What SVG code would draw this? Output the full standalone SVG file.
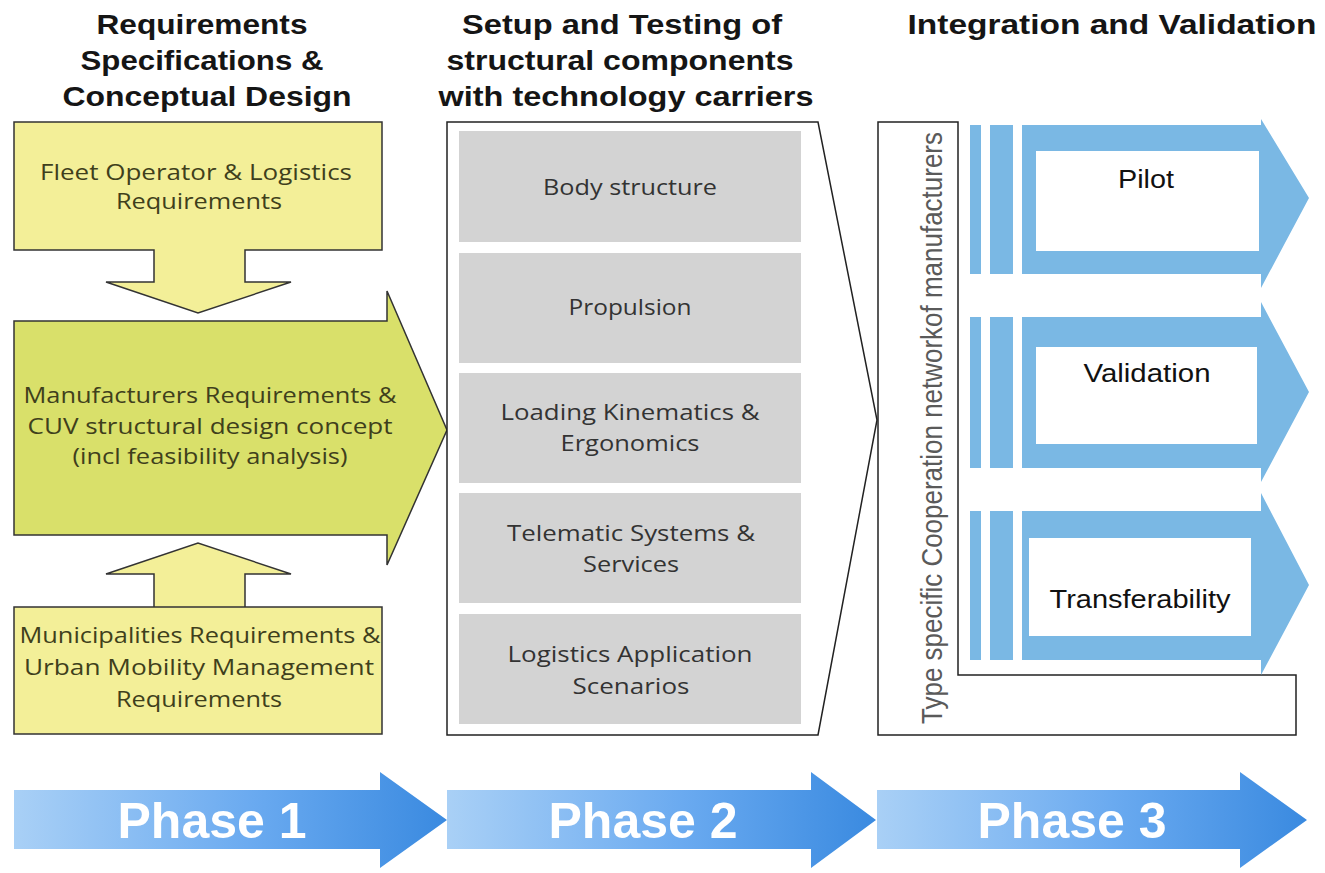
<svg xmlns="http://www.w3.org/2000/svg" width="1325" height="873" viewBox="0 0 1325 873">
  <defs>
    <linearGradient id="phaseGrad" x1="0" y1="0" x2="1" y2="0">
      <stop offset="0" stop-color="#a9d0f6"/>
      <stop offset="0.55" stop-color="#6aaaf0"/>
      <stop offset="1" stop-color="#3a8ae0"/>
    </linearGradient>
    <style>
      text { font-family: "Liberation Sans", Arial, sans-serif; text-anchor: middle; }
      .hdr { font-weight: bold; font-size: 28px; fill: #151515; }
      .req { font-family: "Open Sans", "Noto Sans", sans-serif; font-size: 21px; fill: #3f3f1c; }
      .pale { fill: #f3ef98; stroke: #333; stroke-width: 1.5; }
      .green { fill: #d9e06a; stroke: #333; stroke-width: 1.5; }
      .frame { fill: #fff; stroke: #222; stroke-width: 1.5; }
      .grey { fill: #d3d3d3; }
      .comp { font-family: "Open Sans", "Noto Sans", sans-serif; font-size: 21px; fill: #333; }
      .blue { fill: #7ab8e4; }
      .hole { fill: #fff; }
      .out { font-size: 26px; fill: #111; }
      .phase { fill: url(#phaseGrad); }
      .ptxt { font-weight: bold; font-size: 50px; fill: #fff; }
      .vert { font-size: 26px; fill: #5a5a5a; }
    </style>
  </defs>
  <rect width="1325" height="873" fill="#fff"/>

  <!-- column headings -->
  <g id="headings">
    <text class="hdr" x="202" y="34" textLength="211" lengthAdjust="spacingAndGlyphs">Requirements</text>
    <text class="hdr" x="202" y="70" textLength="243" lengthAdjust="spacingAndGlyphs">Specifications &amp;</text>
    <text class="hdr" x="207" y="106" textLength="289" lengthAdjust="spacingAndGlyphs">Conceptual Design</text>
    <text class="hdr" x="622" y="34" textLength="320" lengthAdjust="spacingAndGlyphs">Setup and Testing of</text>
    <text class="hdr" x="620" y="70" textLength="347" lengthAdjust="spacingAndGlyphs">structural components</text>
    <text class="hdr" x="626" y="106" textLength="375" lengthAdjust="spacingAndGlyphs">with technology carriers</text>
    <text class="hdr" x="1112" y="34" textLength="409" lengthAdjust="spacingAndGlyphs">Integration and Validation</text>
  </g>

  <!-- phase 1: requirements feeding the design concept -->
  <g id="fleet">
    <path class="pale" d="M14,122 H382 V250 H245 V282 H291 L198,313 L106,282 H154 V250 H14 Z"/>
    <text class="req" x="196" y="180" textLength="312" lengthAdjust="spacingAndGlyphs">Fleet Operator &amp; Logistics</text>
    <text class="req" x="199" y="209" textLength="166" lengthAdjust="spacingAndGlyphs">Requirements</text>
  </g>
  <g id="manufacturers">
    <path class="green" d="M14,321 H387 V291 L447,430 L387,565 V535 H14 Z"/>
    <text class="req" x="210" y="403" textLength="373" lengthAdjust="spacingAndGlyphs">Manufacturers Requirements &amp;</text>
    <text class="req" x="210" y="434" textLength="365" lengthAdjust="spacingAndGlyphs">CUV structural design concept</text>
    <text class="req" x="210" y="464" textLength="275" lengthAdjust="spacingAndGlyphs">(incl feasibility analysis)</text>
  </g>
  <g id="municipalities">
    <path class="pale" d="M14,607 H382 V734 H14 Z M154,607 V574 H106 L198,543 L291,574 H245 V607"/>
    <text class="req" x="200" y="643" textLength="361" lengthAdjust="spacingAndGlyphs">Municipalities Requirements &amp;</text>
    <text class="req" x="199" y="675" textLength="350" lengthAdjust="spacingAndGlyphs">Urban Mobility Management</text>
    <text class="req" x="199" y="707" textLength="166" lengthAdjust="spacingAndGlyphs">Requirements</text>
  </g>

  <!-- phase 2: structural components -->
  <g id="components">
    <path class="frame" d="M447,122 H818 L877,420 L818,735 H447 Z"/>
    <rect class="grey" x="459" y="131" width="342" height="111"/>
    <rect class="grey" x="459" y="253" width="342" height="110"/>
    <rect class="grey" x="459" y="373" width="342" height="110"/>
    <rect class="grey" x="459" y="493" width="342" height="110"/>
    <rect class="grey" x="459" y="614" width="342" height="110"/>
    <text class="comp" x="630" y="195" textLength="174" lengthAdjust="spacingAndGlyphs">Body structure</text>
    <text class="comp" x="630" y="315" textLength="123" lengthAdjust="spacingAndGlyphs">Propulsion</text>
    <text class="comp" x="630" y="420" textLength="259" lengthAdjust="spacingAndGlyphs">Loading Kinematics &amp;</text>
    <text class="comp" x="630" y="451" textLength="139" lengthAdjust="spacingAndGlyphs">Ergonomics</text>
    <text class="comp" x="631" y="541" textLength="248" lengthAdjust="spacingAndGlyphs">Telematic Systems &amp;</text>
    <text class="comp" x="631" y="572" textLength="96" lengthAdjust="spacingAndGlyphs">Services</text>
    <text class="comp" x="630" y="662" textLength="245" lengthAdjust="spacingAndGlyphs">Logistics Application</text>
    <text class="comp" x="631" y="694" textLength="117" lengthAdjust="spacingAndGlyphs">Scenarios</text>
  </g>

  <!-- phase 3: cooperation network frame -->
  <g id="network">
    <path class="frame" d="M878,122 H958 V675 H1296 V735 H878 Z"/>
    <text class="vert" transform="translate(942,428) rotate(-90) scale(1,1.12)" textLength="592" lengthAdjust="spacingAndGlyphs">Type specific Cooperation networkof manufacturers</text>
  </g>

  <g id="pilot">
    <rect class="blue" x="970" y="125" width="11" height="149"/>
    <rect class="blue" x="990" y="125" width="23" height="149"/>
    <path class="blue" d="M1022,125 H1261 V119 L1309,198 L1261,288 V274 H1022 Z"/>
    <rect class="hole" x="1036" y="151" width="223" height="100"/>
    <text class="out" x="1146" y="188" textLength="56" lengthAdjust="spacingAndGlyphs">Pilot</text>
  </g>
  <g id="validation">
    <rect class="blue" x="970" y="317" width="11" height="151"/>
    <rect class="blue" x="990" y="317" width="23" height="151"/>
    <path class="blue" d="M1022,317 H1261 V302 L1309,392 L1261,482 V468 H1022 Z"/>
    <rect class="hole" x="1036" y="347" width="221" height="97"/>
    <text class="out" x="1147" y="382" textLength="127" lengthAdjust="spacingAndGlyphs">Validation</text>
  </g>
  <g id="transferability">
    <rect class="blue" x="970" y="511" width="11" height="149"/>
    <rect class="blue" x="990" y="511" width="23" height="149"/>
    <path class="blue" d="M1022,511 H1261 V493 L1309,585 L1261,675 V660 H1022 Z"/>
    <rect class="hole" x="1029" y="538" width="222" height="98"/>
    <text class="out" x="1140" y="608" textLength="181" lengthAdjust="spacingAndGlyphs">Transferability</text>
  </g>

  <!-- phase banner arrows -->
  <g id="phases">
    <path class="phase" d="M14,790 H380 V772 L447,820 L380,868 V849 H14 Z"/>
    <path class="phase" d="M447,790 H811 V772 L876,820 L811,868 V849 H447 Z"/>
    <path class="phase" d="M877,790 H1240 V772 L1307,820 L1240,868 V849 H877 Z"/>
    <text class="ptxt" x="212" y="838">Phase 1</text>
    <text class="ptxt" x="643" y="838">Phase 2</text>
    <text class="ptxt" x="1072" y="838">Phase 3</text>
  </g>
</svg>
